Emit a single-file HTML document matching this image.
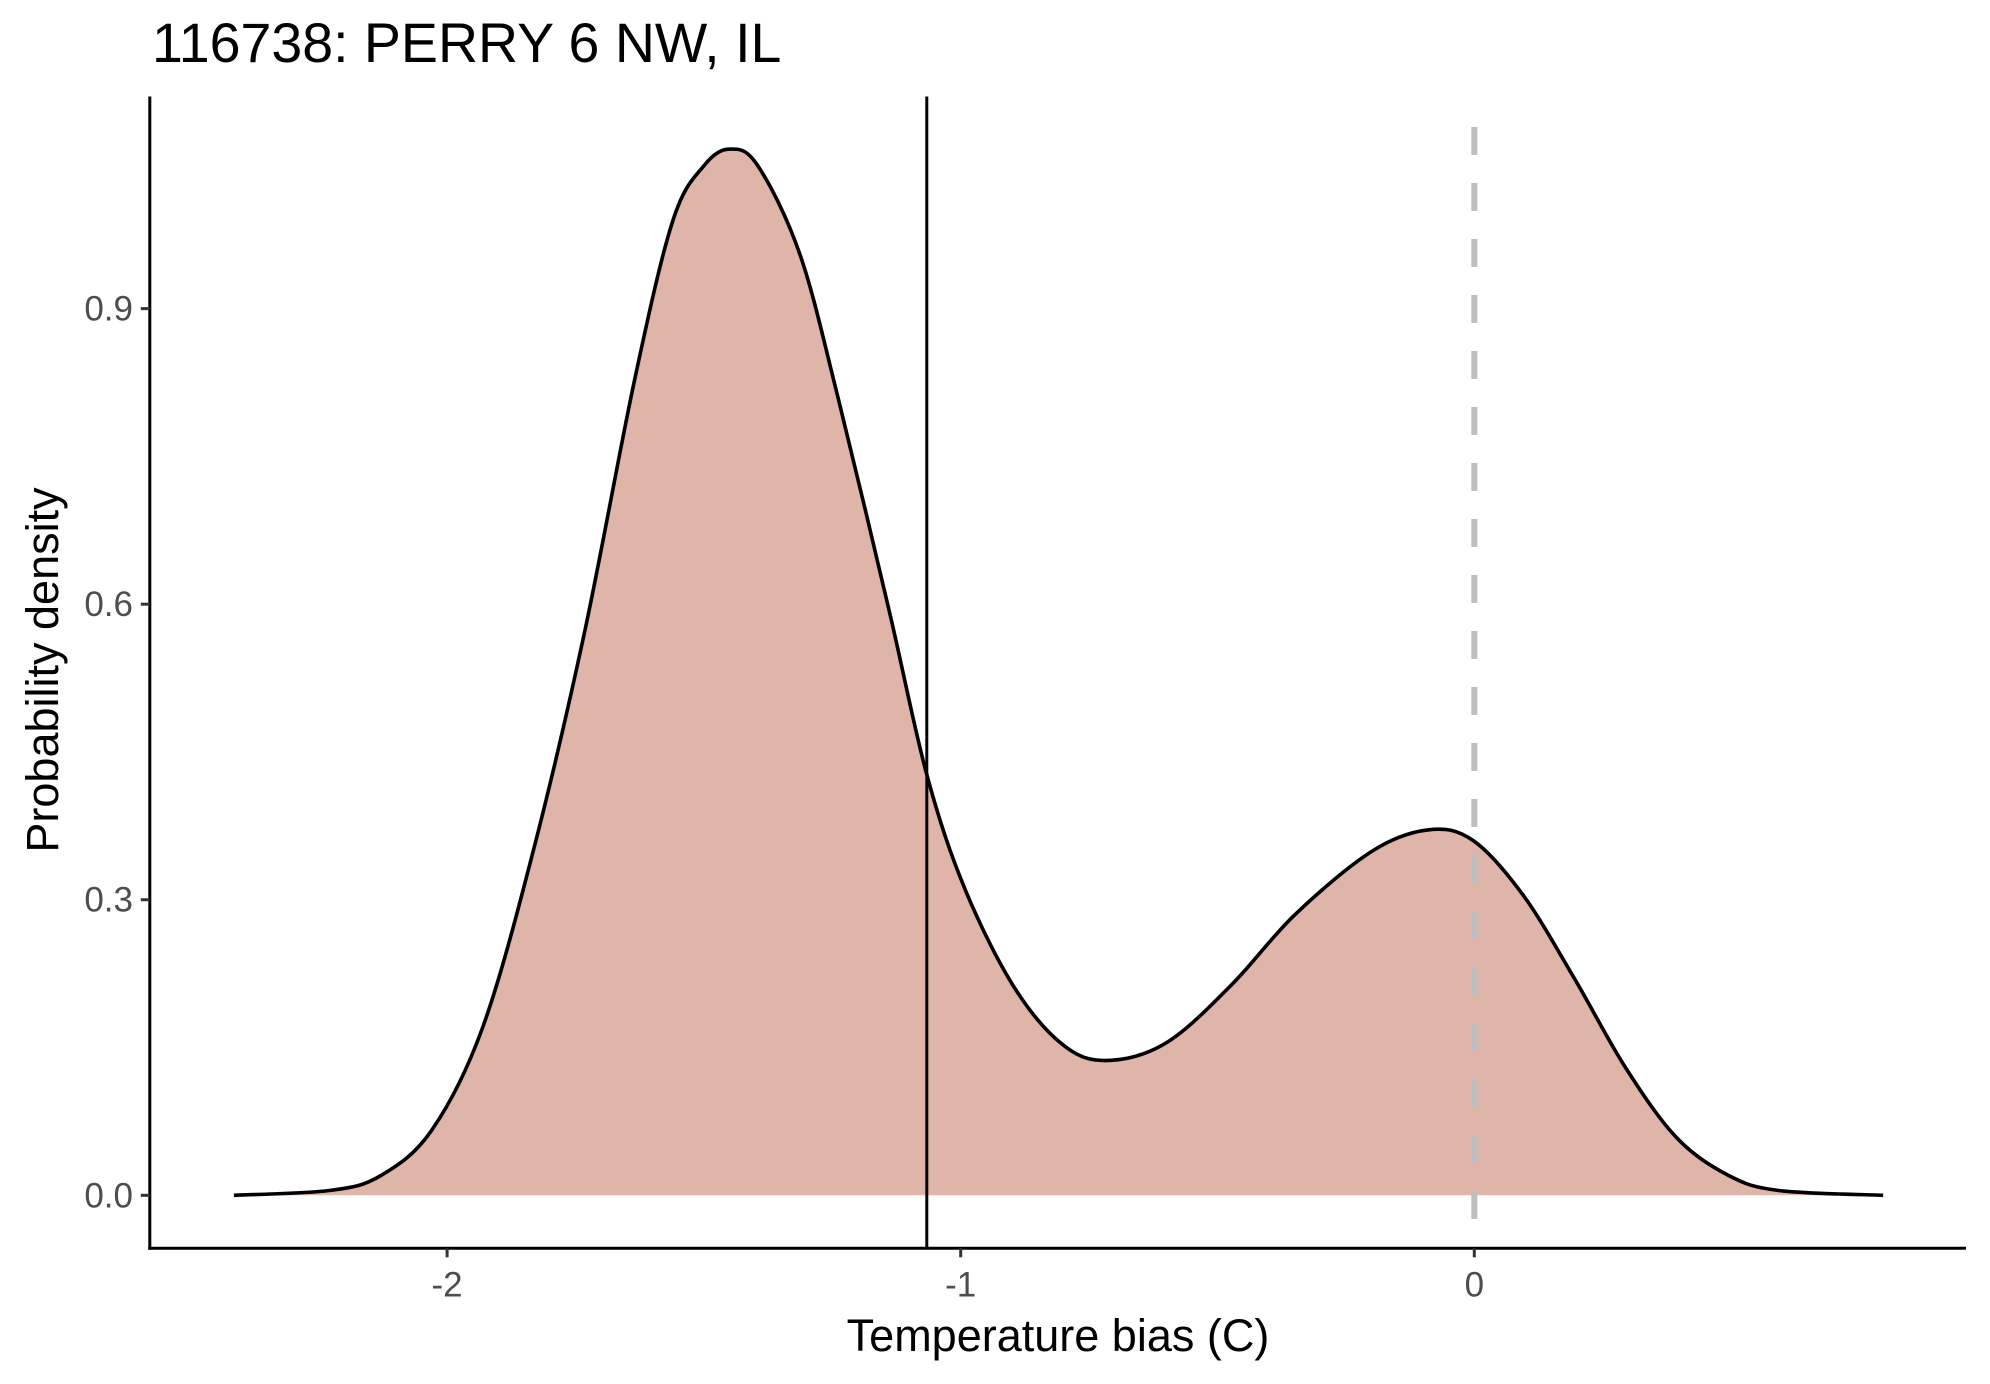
<!DOCTYPE html>
<html><head><meta charset="utf-8"><style>
html,body{margin:0;padding:0;background:#fff;}
svg{display:block;font-family:"Liberation Sans",Arial,sans-serif;}
</style></head><body>
<svg id="chart" width="1990" height="1384" viewBox="0 0 1990 1384">
<text x="152" y="62" font-size="55.5" fill="#000">116738: PERRY 6 NW, IL</text>
<g id="plot"></g>
<text x="1058" y="1351" font-size="45" text-anchor="middle" fill="#000">Temperature bias (C)</text>
<text transform="translate(58,670) rotate(-90)" font-size="45" text-anchor="middle" fill="#000">Probability density</text>
</svg>
<script>
const xs = [-2.415,-2.227,-2.129,-2.030,-1.931,-1.832,-1.733,-1.634,-1.560,-1.500,-1.449,-1.395,-1.313,-1.239,-1.140,-1.066,-0.991,-0.892,-0.794,-0.707,-0.596,-0.472,-0.349,-0.200,-0.089,-0.002,0.096,0.195,0.294,0.393,0.492,0.591,0.796];
const ys = [0,0.005,0.02,0.066,0.17,0.35,0.57,0.83,0.99,1.045,1.062,1.045,0.955,0.81,0.595,0.427,0.31,0.208,0.15,0.137,0.156,0.214,0.285,0.349,0.371,0.36,0.304,0.22,0.13,0.059,0.021,0.005,0];
const xTicks = [-2,-1,0];
const xTickLabels = ["-2","-1","0"];
const yTicks = [0,0.3,0.6,0.9];
const yTickLabels = ["0.0","0.3","0.6","0.9"];
const meanBias = -1.066;
const refLine = 0;

const NS="http://www.w3.org/2000/svg";
const X=v=>1474.3+v*513.6;
const Y=v=>1195.3-v*985.2;
const L=149.8,T=96.5,B=1248.3,R=1966;
const g=document.getElementById('plot');
function mk(t,a){const e=document.createElementNS(NS,t);for(const k in a)e.setAttribute(k,a[k]);g.appendChild(e);return e;}
const P=xs.map((x,i)=>[X(x),Y(ys[i])]);
let d=`M${P[0][0]},${P[0][1]}`;
for(let i=0;i<P.length-1;i++){const p0=P[Math.max(0,i-1)],p1=P[i],p2=P[i+1],p3=P[Math.min(P.length-1,i+2)];
d+=` C${p1[0]+(p2[0]-p0[0])/6},${p1[1]+(p2[1]-p0[1])/6} ${p2[0]-(p3[0]-p1[0])/6},${p2[1]-(p3[1]-p1[1])/6} ${p2[0]},${p2[1]}`;}
const area=mk('path',{d:d+` L${P[P.length-1][0]},${Y(0)} L${P[0][0]},${Y(0)} Z`,fill:'#dfb5a9',stroke:'none'});


const rl=mk('line',{x1:X(refLine),x2:X(refLine),y1:127,y2:B,stroke:'#bebebe','stroke-width':6,'stroke-dasharray':'28 28'});


const curve=mk('path',{d:d,fill:'none',stroke:'#000','stroke-width':3.6,'stroke-linejoin':'round'});


const ml=mk('line',{x1:X(meanBias),x2:X(meanBias),y1:T,y2:B,stroke:'#000','stroke-width':3});


const ya=mk('line',{x1:L,x2:L,y1:T,y2:B+1.5,stroke:'#000','stroke-width':3});


const xa=mk('line',{x1:L-1.5,x2:R,y1:B,y2:B,stroke:'#000','stroke-width':3});


xTicks.forEach((v,i)=>{
 const t=mk('line',{x1:X(v),x2:X(v),y1:B,y2:B+9,stroke:'#333','stroke-width':3});
 
 
 const tx=mk('text',{x:X(v),y:B+48,'font-size':35,'text-anchor':'middle',fill:'#4d4d4d'});
 tx.textContent=xTickLabels[i];
 
 
});
yTicks.forEach((v,i)=>{
 const t=mk('line',{x1:L-9,x2:L,y1:Y(v),y2:Y(v),stroke:'#333','stroke-width':3});
 
 
 const tx=mk('text',{x:133,y:Y(v)+12,'font-size':35,'text-anchor':'end',fill:'#4d4d4d'});
 tx.textContent=yTickLabels[i];
 
 
});
</script>
</body></html>
